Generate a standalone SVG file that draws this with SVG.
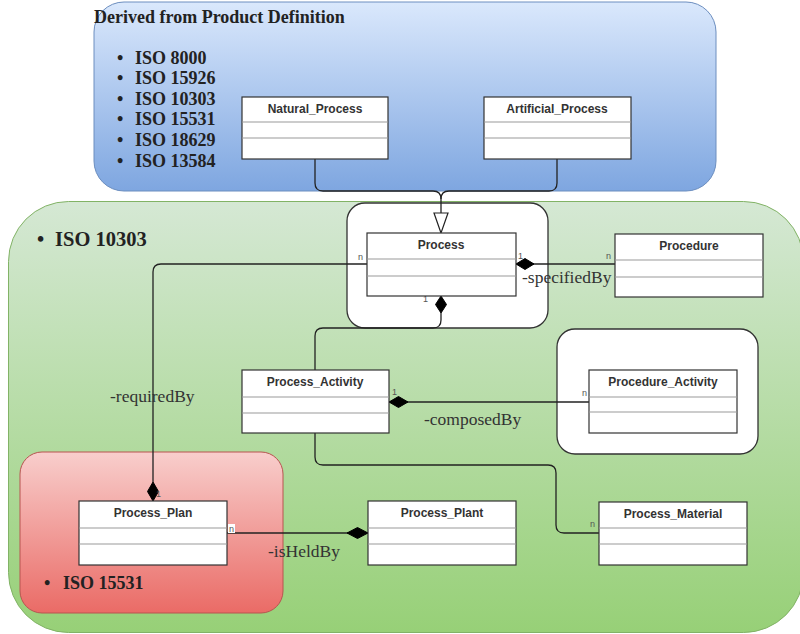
<svg xmlns="http://www.w3.org/2000/svg" width="800" height="634" viewBox="0 0 800 634">
<defs>
<linearGradient id="gBlue" x1="0" y1="0" x2="0" y2="1"><stop offset="0" stop-color="#dae8fc"/><stop offset="1" stop-color="#7ea6e0"/></linearGradient>
<linearGradient id="gGreen" x1="0" y1="0" x2="0" y2="1"><stop offset="0" stop-color="#d5e8d4"/><stop offset="1" stop-color="#97d077"/></linearGradient>
<linearGradient id="gRed" x1="0" y1="0" x2="0" y2="1"><stop offset="0" stop-color="#f8cecc"/><stop offset="1" stop-color="#ea6b66"/></linearGradient>
</defs>
<style>
.cls{fill:#fff;stroke:#333;stroke-width:1.2}
.sep{stroke:#999;stroke-width:1}
.cname{font-family:"Liberation Sans",Arial,sans-serif;font-weight:bold;font-size:12px;fill:#333;text-anchor:middle}
.mult{font-family:"Liberation Sans",Arial,sans-serif;font-size:9px;fill:#555}
.lbl{font-family:"Liberation Serif","Times New Roman",serif;font-size:17.5px;fill:#333}
.big{font-family:"Liberation Serif","Times New Roman",serif;font-size:18px;font-weight:bold;fill:#222}
.conn{fill:none;stroke:#222;stroke-width:1.3}
.dia{fill:#000;stroke:#000;stroke-width:1}
.wbox{fill:#fff;stroke:#333;stroke-width:1.3}
</style>
<g id="containers">
<rect x="94" y="2" width="622" height="189" rx="30" fill="url(#gBlue)" stroke="#6c8ebf" stroke-width="1"/>
<rect x="8.5" y="201.5" width="795" height="431" rx="60" fill="url(#gGreen)" stroke="#82b366" stroke-width="1"/>
<rect x="20" y="452" width="263" height="161" rx="22" fill="url(#gRed)" stroke="#b85450" stroke-width="1"/>
<rect class="wbox" x="347" y="203" width="201" height="125" rx="18"/>
<rect class="wbox" x="557" y="329" width="201" height="125" rx="18"/>
</g>
<g id="texts">
<text class="big" x="94" y="23">Derived from Product Definition</text>
<g class="big">
<text x="117" y="64">•</text><text x="135" y="64">ISO 8000</text>
<text x="117" y="84">•</text><text x="135" y="84">ISO 15926</text>
<text x="117" y="105">•</text><text x="135" y="105">ISO 10303</text>
<text x="117" y="125">•</text><text x="135" y="125">ISO 15531</text>
<text x="117" y="146">•</text><text x="135" y="146">ISO 18629</text>
<text x="117" y="167">•</text><text x="135" y="167">ISO 13584</text>
<text x="37" y="246" font-size="20.5">•</text><text x="55" y="246" font-size="20.5">ISO 10303</text>
<text x="44" y="589">•</text><text x="63" y="589">ISO 15531</text>
</g>
</g>
<g id="connectors">
<path class="conn" d="M315,159 V183 Q315,191 323,191 H433 Q441,191 441,199 V213"/>
<path class="conn" d="M557,159 V183 Q557,191 549,191 H449 Q441,191 441,199"/>
<polygon points="441,233 434,213 448,213" fill="#fff" stroke="#222" stroke-width="1.2"/>
<path class="conn" d="M516,264 H615"/>
<polygon class="dia" points="516,264 525,258.5 534,264 525,269.5"/>
<path class="conn" d="M441,313 V320 Q441,328 433,328 H323 Q315,328 315,336 V370"/>
<polygon class="dia" points="441,296 446.5,304.5 441,313 435.5,304.5"/>
<path class="conn" d="M367,264 H161 Q153,264 153,272 V482"/>
<polygon class="dia" points="153,482 158.5,491.5 153,501 147.5,491.5"/>
<path class="conn" d="M389,402 H589"/>
<polygon class="dia" points="389,402 398.5,396.5 408,402 398.5,407.5"/>
<path class="conn" d="M315,433 V457 Q315,465 323,465 H548 Q556,465 556,473 V525 Q556,533 564,533 H599"/>
<path class="conn" d="M227,533 H368"/>
<polygon class="dia" points="368,533 357.5,527.5 347,533 357.5,538.5"/>
<text class="mult" x="358" y="260">n</text>
<text class="mult" x="518" y="259">1</text>
<text class="mult" x="606" y="259">n</text>
<text class="mult" x="423" y="302">1</text>
<text class="mult" x="392" y="395">1</text>
<text class="mult" x="582" y="396">n</text>
<text class="mult" x="318" y="428">n</text>
<text class="mult" x="590" y="527">n</text>
<text class="mult" x="156" y="497">1</text>
<rect x="228" y="524" width="7" height="9" fill="#fff"/>
<text class="mult" x="229" y="532">n</text>
<text class="mult" x="369" y="532">1</text>
<text class="lbl" x="522" y="283">-specifiedBy</text>
<text class="lbl" x="110" y="402">-requiredBy</text>
<text class="lbl" x="424" y="425">-composedBy</text>
<text class="lbl" x="268" y="557">-isHeldBy</text>
</g>
<g id="Natural_Process">
<rect class="cls" x="242" y="97" width="146" height="62"/>
<line class="sep" x1="242" y1="122" x2="388" y2="122"/><line class="sep" x1="242" y1="138" x2="388" y2="138"/>
<text class="cname" x="315" y="113">Natural_Process</text>
</g>
<g id="Artificial_Process">
<rect class="cls" x="484" y="97" width="147" height="62"/>
<line class="sep" x1="484" y1="122" x2="631" y2="122"/><line class="sep" x1="484" y1="138" x2="631" y2="138"/>
<text class="cname" x="557" y="113">Artificial_Process</text>
</g>
<g id="Process">
<rect class="cls" x="367" y="233" width="149" height="63"/>
<line class="sep" x1="367" y1="259" x2="516" y2="259"/><line class="sep" x1="367" y1="276" x2="516" y2="276"/>
<text class="cname" x="441" y="249">Process</text>
</g>
<g id="Procedure">
<rect class="cls" x="615" y="234" width="148" height="63"/>
<line class="sep" x1="615" y1="260" x2="763" y2="260"/><line class="sep" x1="615" y1="277" x2="763" y2="277"/>
<text class="cname" x="689" y="250">Procedure</text>
</g>
<g id="Process_Activity">
<rect class="cls" x="242" y="370" width="147" height="63"/>
<line class="sep" x1="242" y1="397" x2="389" y2="397"/><line class="sep" x1="242" y1="413" x2="389" y2="413"/>
<text class="cname" x="315" y="386">Process_Activity</text>
</g>
<g id="Procedure_Activity">
<rect class="cls" x="589" y="370" width="148" height="63"/>
<line class="sep" x1="589" y1="397" x2="737" y2="397"/><line class="sep" x1="589" y1="412" x2="737" y2="412"/>
<text class="cname" x="663" y="386">Procedure_Activity</text>
</g>
<g id="Process_Plan">
<rect class="cls" x="79" y="501" width="148" height="64"/>
<line class="sep" x1="79" y1="528" x2="227" y2="528"/><line class="sep" x1="79" y1="544" x2="227" y2="544"/>
<text class="cname" x="153" y="517">Process_Plan</text>
</g>
<g id="Process_Plant">
<rect class="cls" x="368" y="501" width="148" height="64"/>
<line class="sep" x1="368" y1="528" x2="516" y2="528"/><line class="sep" x1="368" y1="544" x2="516" y2="544"/>
<text class="cname" x="442" y="517">Process_Plant</text>
</g>
<g id="Process_Material">
<rect class="cls" x="599" y="502" width="148" height="63"/>
<line class="sep" x1="599" y1="528" x2="747" y2="528"/><line class="sep" x1="599" y1="544" x2="747" y2="544"/>
<text class="cname" x="673" y="518">Process_Material</text>
</g>
</svg>
